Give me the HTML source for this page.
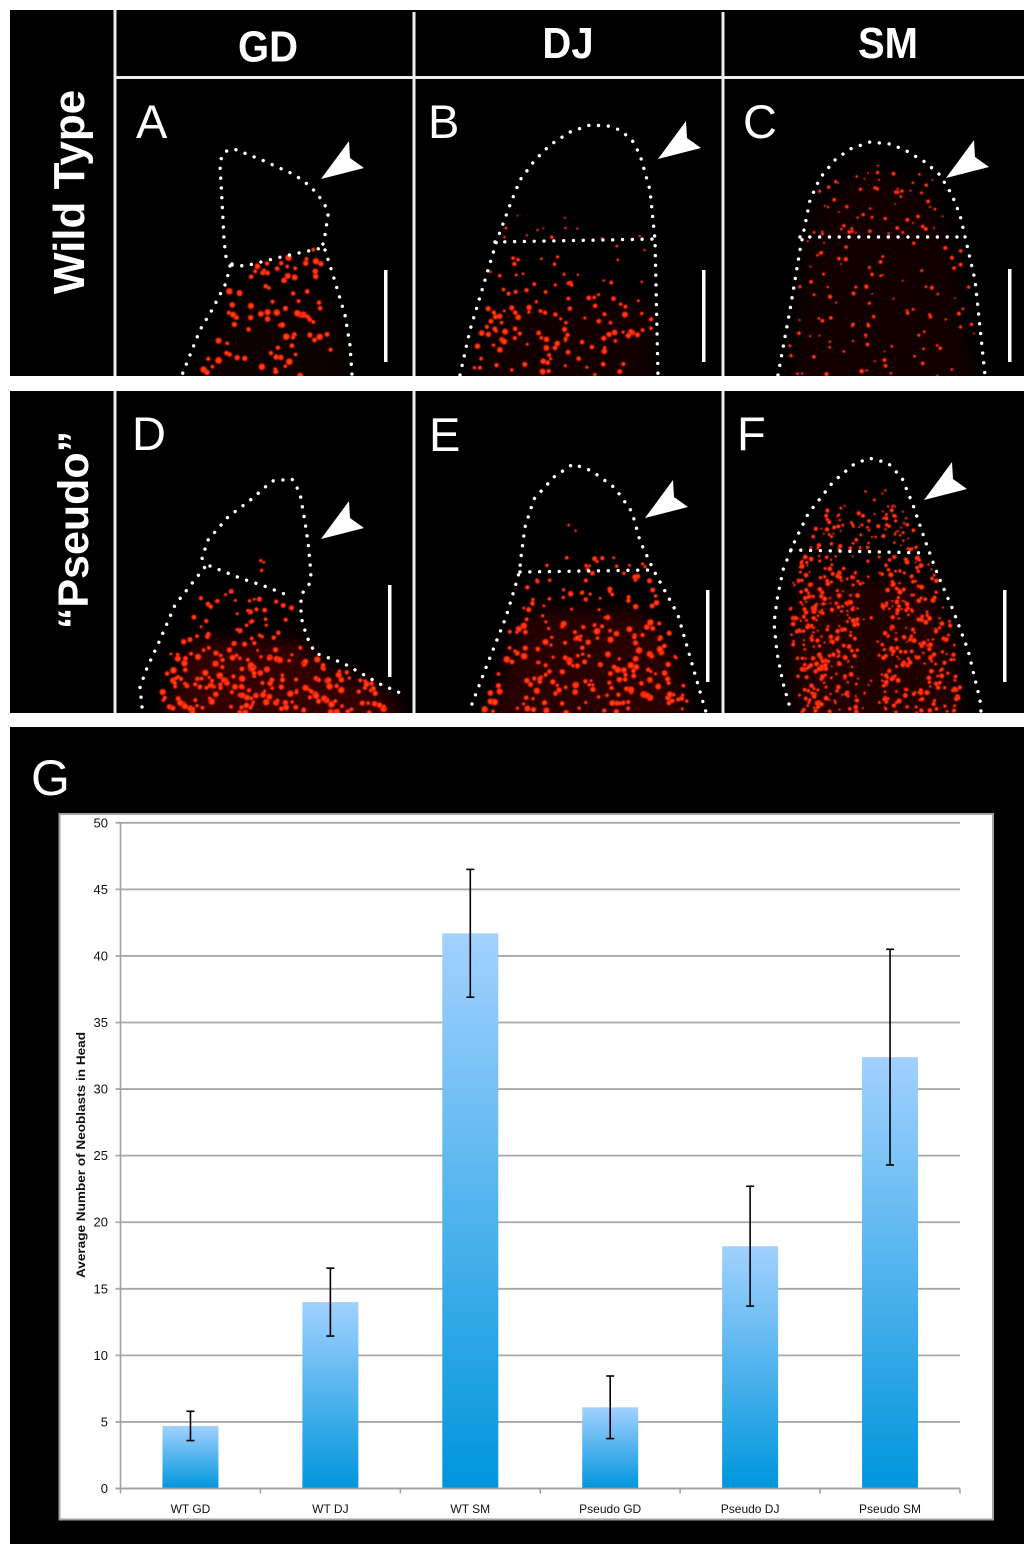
<!DOCTYPE html>
<html lang="en">
<head>
<meta charset="utf-8">
<title>Neoblast micrographs and chart</title>
<style>
html,body{margin:0;padding:0;background:#fff;}
svg{display:block;}
text{font-family:"Liberation Sans",sans-serif;}
</style>
</head>
<body>
<svg id="figure" xmlns="http://www.w3.org/2000/svg" width="1024" height="1544" viewBox="0 0 1024 1544">
  <defs>
    <filter id="soft" filterUnits="userSpaceOnUse" x="0" y="0" width="1024" height="730"><feGaussianBlur stdDeviation="0.6"/></filter>
    <filter id="glow" filterUnits="userSpaceOnUse" x="0" y="0" width="1024" height="730"><feGaussianBlur stdDeviation="9"/></filter>
    <linearGradient id="barFill" x1="0" y1="0" x2="0" y2="1">
      <stop offset="0" stop-color="#a2d1ff"/>
      <stop offset="1" stop-color="#0096dc"/>
    </linearGradient>
    <radialGradient id="cellFill">
      <stop offset="0" stop-color="#ff5a1c"/>
      <stop offset="0.65" stop-color="#ff2a0a"/>
      <stop offset="1" stop-color="#d81000"/>
    </radialGradient>
    <clipPath id="topRowClip"><rect x="10" y="10" width="1014" height="366"/></clipPath>
    <clipPath id="bottomRowClip"><rect x="10" y="391" width="1014" height="322"/></clipPath>
  </defs>
  <rect x="0" y="0" width="1024" height="1544" fill="#fff"/>
  <rect x="10" y="10" width="1014" height="703" fill="#000"/>
  <rect x="10" y="727" width="1014" height="817" fill="#000"/>

  <g clip-path="url(#topRowClip)"><g id="tissueTop" filter="url(#glow)"></g></g>
  <g clip-path="url(#bottomRowClip)"><g id="tissueBottom" filter="url(#glow)"></g></g>
  <g clip-path="url(#topRowClip)"><g id="cellsTop" filter="url(#soft)"></g></g>
  <g clip-path="url(#bottomRowClip)"><g id="cellsBottom" filter="url(#soft)"></g></g>

  <!-- panel separators -->
  <g fill="#eeeeee">
    <rect x="10" y="376" width="1014" height="15" fill="#fff"/>
    <rect x="10" y="713" width="1014" height="14" fill="#fff"/>
    <rect x="113.5" y="10" width="3" height="366"/>
    <rect x="412.5" y="12" width="3" height="364"/>
    <rect x="721.5" y="12" width="3" height="364"/>
    <rect x="116" y="76" width="908" height="3"/>
    <rect x="113.5" y="391" width="3" height="322"/>
    <rect x="412.5" y="391" width="3" height="322"/>
    <rect x="721.5" y="391" width="3" height="322"/>
  </g>

  <!-- headers -->
  <g fill="#fff" font-weight="700">
    <text transform="translate(268 61.5) scale(1 1.08)" font-size="40" text-anchor="middle">GD</text>
    <text transform="translate(568 58) scale(1 1.08)" font-size="40" text-anchor="middle">DJ</text>
    <text transform="translate(888 58) scale(1 1.08)" font-size="40" text-anchor="middle">SM</text>
    <text transform="translate(84 192) rotate(-90)" font-size="44" text-anchor="middle">Wild Type</text>
    <text transform="translate(88 530) rotate(-90)" font-size="43" text-anchor="middle">“Pseudo”</text>
  </g>
  <g fill="#fff" font-size="47">
    <text x="136" y="138">A</text>
    <text x="428" y="138">B</text>
    <text x="743" y="138">C</text>
    <text x="132" y="450">D</text>
    <text x="429" y="451">E</text>
    <text x="737" y="450">F</text>
    <text x="31" y="795" font-size="50">G</text>
  </g>

  <!-- dotted outlines -->
  <g fill="none" stroke="#fff" stroke-width="3.4" stroke-linecap="round" stroke-dasharray="0.01 9.8" stroke-linejoin="round">
    <polyline points="232,264 226,257 224,240 222,200 220,165 222,155 228,150 234,149 262,160 295,175 310,186 318,195 325,205 328,215 325,235 322,248"/>
    <polyline points="232,265 245,266 265,261 285,256 322,248"/>
    <polyline points="230,266 226,283 212,310 200,330 190,355 182,375"/>
    <polyline points="325,250 333,275 345,315 350,345 352,375"/>

    <polyline points="460,375 470,330 485,280 497,240 510,205 520,180 535,160 550,145 570,132 590,125 608,126 620,130 632,140 640,155 650,190 655,240 657,330 658,375"/>
    <polyline points="495,242 655,239"/>

    <polyline points="778,375 790,310 800,250 810,200 820,178 835,160 850,149 870,142 890,144 905,150 925,162 940,175 952,195 960,215 975,280 985,375"/>
    <polyline points="800,237 962,237"/>

    <polyline points="142,707 140,687 147,668 159,642 175,605 193,582 205,567 202,558 208,540 228,517 253,498 272,481 292,479 300,493 305,522 308,542 311,573 310,583 301,595 301,617 307,637 315,653 343,663 380,684 407,696"/>
    <polyline points="210,566 240,578 267,587 292,597"/>

    <polyline points="472,704 487,665 506,617 518,577 520,567 521,557 525,527 534,499 554,477 573,464 592,471 615,488 632,512 640,541 653,569 678,615 703,702 706,712"/>
    <polyline points="520,572 653,570"/>

    <polyline points="789,704 783,683 777,653 774,623 777,600 783,570 792,547 808,514 833,482 853,465 869,458 888,463 902,478 913,505 926,543 937,573 953,610 968,650 980,700 981,712"/>
    <polyline points="791,550 928,553"/>
  </g>

  <!-- arrowheads -->
  <g fill="#fff">
    <polygon points="321,179 349,141 350,158 364,168"/>
    <polygon transform="translate(337 -20)" points="321,179 349,141 350,158 364,168"/>
    <polygon transform="translate(625 -1)" points="321,179 349,141 350,158 364,168"/>
    <polygon transform="translate(0 360)" points="321,179 349,141 350,158 364,168"/>
    <polygon transform="translate(324 339)" points="321,179 349,141 350,158 364,168"/>
    <polygon transform="translate(603 321)" points="321,179 349,141 350,158 364,168"/>
  </g>

  <!-- scale bars -->
  <g fill="#fff">
    <rect x="384" y="270" width="3.5" height="92"/>
    <rect x="702" y="270" width="3.5" height="92"/>
    <rect x="1008" y="269" width="3.5" height="93"/>
    <rect x="388" y="585" width="3.5" height="92"/>
    <rect x="706" y="590" width="3.5" height="92"/>
    <rect x="1003" y="590" width="3.5" height="92"/>
  </g>

  <!-- chart -->
  <rect x="59.5" y="814" width="933.5" height="705.5" fill="#fff" stroke="#a2a2a2" stroke-width="2"/>
  <g id="chart"></g>
  <text transform="translate(85 1155) rotate(-90)" font-size="12" font-weight="700" text-anchor="middle" fill="#111" textLength="246" lengthAdjust="spacingAndGlyphs">Average Number of Neoblasts in Head</text>
</svg>

<script>
// ---- chart data ----
var categories = ["WT GD", "WT DJ", "WT SM", "Pseudo GD", "Pseudo DJ", "Pseudo SM"];
var meanValues = [4.7, 14.0, 41.7, 6.1, 18.2, 32.4];
var errorValues = [1.1, 2.55, 4.8, 2.35, 4.5, 8.1];
var yTickLabels = [0, 5, 10, 15, 20, 25, 30, 35, 40, 45, 50];

// ---- axis functions ----
var plotLeft = 120.5, plotRight = 960, plotBottom = 1488.5, plotTop = 822.8, yMax = 50;
function yScale(v) { return plotBottom - (v / yMax) * (plotBottom - plotTop); }
function bandWidth() { return (plotRight - plotLeft) / categories.length; }
function xCenter(i) { return plotLeft + bandWidth() * (i + 0.5); }

var NS = "http://www.w3.org/2000/svg";
var chart = document.getElementById("chart");
function make(tag, attrs, parent) {
  var n = document.createElementNS(NS, tag);
  for (var k in attrs) n.setAttribute(k, attrs[k]);
  parent.appendChild(n);
  return n;
}

yTickLabels.forEach(function (t) {
  var y = yScale(t);
  var grid = make("line", { x1: plotLeft - 5, x2: plotRight, y1: y, y2: y, stroke: "#a8a8a8", "stroke-width": 1.8 }, chart);
  
  
  var lab = make("text", { x: 108, y: y + 4.5, "font-size": 13, "text-anchor": "end", fill: "#111" }, chart);
  lab.textContent = t;
  
  
});

var yAxis = make("line", { x1: plotLeft, x2: plotLeft, y1: plotTop, y2: plotBottom, stroke: "#a0a0a0", "stroke-width": 1.6 }, chart);



for (var ti = 0; ti <= categories.length; ti++) {
  var tx = plotLeft + bandWidth() * ti;
  var tick = make("line", { x1: tx, x2: tx, y1: plotBottom, y2: plotBottom + 5, stroke: "#a0a0a0", "stroke-width": 1.5 }, chart);
  
  
}

categories.forEach(function (c, i) {
  var cx = xCenter(i), w = 56;
  var bar = make("rect", { x: cx - w / 2, y: yScale(meanValues[i]), width: w, height: plotBottom - yScale(meanValues[i]), fill: "url(#barFill)" }, chart);
  
  
  var hi = yScale(meanValues[i] + errorValues[i]), lo = yScale(meanValues[i] - errorValues[i]);
  var stem = make("line", { x1: cx, x2: cx, y1: hi, y2: lo, stroke: "#000", "stroke-width": 1.6 }, chart);
  
  
  var capTop = make("line", { x1: cx - 4, x2: cx + 4, y1: hi, y2: hi, stroke: "#000", "stroke-width": 1.6 }, chart);
  
  
  var capBottom = make("line", { x1: cx - 4, x2: cx + 4, y1: lo, y2: lo, stroke: "#000", "stroke-width": 1.6 }, chart);
  
  
  var lab = make("text", { x: cx, y: 1513, "font-size": 12, "text-anchor": "middle", fill: "#111" }, chart);
  lab.textContent = c;
  
  
});

var xAxis = make("line", { x1: plotLeft - 5, x2: plotRight, y1: plotBottom, y2: plotBottom, stroke: "#a0a0a0", "stroke-width": 1.8 }, chart);



// ---- micrograph texture (photographic speckle, not chart data) ----
var tissueAreas = [
  { poly: [[240,300],[320,290],[340,330],[345,395],[200,395],[215,340]], o: 0.05 },
  { poly: [[500,300],[650,300],[652,395],[475,395]], o: 0.07 },
  { poly: [[815,210],[870,165],[930,195],[955,260],[975,395],[790,395],[800,300]], o: 0.07 },
  { poly: [[195,640],[300,640],[325,670],[390,695],[410,730],[160,730]], o: 0.20 },
  { poly: [[530,610],[645,610],[675,660],[690,730],[485,730],[505,670]], o: 0.16 },
  { poly: [[805,580],[925,580],[950,640],[962,730],[800,730],[790,650]], o: 0.13 }
];
var speckleAreas = [
  { poly: [[236,268],[320,246],[333,300],[335,376],[200,376],[216,320]], n: 85, a: 2.0, b: 3.6 },
  { poly: [[495,246],[652,243],[652,290],[486,290]], n: 24, a: 1.3, b: 2.4 },
  { poly: [[486,290],[652,290],[655,376],[472,376]], n: 100, a: 1.6, b: 3.2 },
  { poly: [[510,212],[560,205],[590,235],[645,232],[650,240],[497,240]], n: 12, a: 1.0, b: 2.0 },
  { poly: [[803,240],[960,240],[975,300],[980,376],[785,376],[795,300]], n: 95, a: 1.0, b: 2.5 },
  { poly: [[805,235],[815,195],[840,165],[870,150],[905,160],[935,180],[955,235]], n: 60, a: 1.0, b: 2.2 },
  { poly: [[203,588],[292,594],[298,640],[310,655],[170,655],[185,615]], n: 55, a: 1.6, b: 3.0 },
  { poly: [[165,655],[310,655],[345,670],[385,690],[385,713],[160,713]], n: 170, a: 1.8, b: 3.6 },
  { poly: [[258,558],[268,558],[268,572],[258,572]], n: 3, a: 1.2, b: 2.0 },
  { poly: [[530,573],[650,573],[668,620],[520,620]], n: 42, a: 1.5, b: 3.0 },
  { poly: [[510,620],[668,620],[690,713],[480,713]], n: 170, a: 1.7, b: 3.6 },
  { poly: [[535,556],[640,556],[650,570],[525,570]], n: 13, a: 1.5, b: 2.8 },
  { poly: [[548,526],[576,524],[576,532],[548,532]], n: 2, a: 1.2, b: 1.8 },
  { poly: [[795,556],[858,556],[858,713],[802,713],[792,650],[790,600]], n: 260, a: 1.1, b: 2.7 },
  { poly: [[858,556],[882,556],[882,713],[858,713]], n: 16, a: 1.0, b: 2.0 },
  { poly: [[882,556],[928,556],[950,620],[966,713],[882,713]], n: 230, a: 1.1, b: 2.8 },
  { poly: [[808,550],[820,510],[905,510],[922,550]], n: 80, a: 1.0, b: 2.4 },
  { poly: [[830,510],[860,488],[885,490],[900,510]], n: 10, a: 1.0, b: 1.8 }
];
var seed = 48271;
function nextRand() { seed = (seed * 16807) % 2147483647; return seed / 2147483647; }
function inside(p, x, y) {
  var c = false;
  for (var i = 0, j = p.length - 1; i < p.length; j = i++) {
    if ((p[i][1] > y) !== (p[j][1] > y) && x < (p[j][0] - p[i][0]) * (y - p[i][1]) / (p[j][1] - p[i][1]) + p[i][0]) c = !c;
  }
  return c;
}
var tissueTop = document.getElementById("tissueTop");
var tissueBottom = document.getElementById("tissueBottom");
tissueAreas.forEach(function (t) {
  var pts = t.poly.map(function (p) { return p.join(","); }).join(" ");
  var area = make("polygon", { points: pts, fill: "#ff1a00", opacity: t.o }, t.poly[0][1] < 385 ? tissueTop : tissueBottom);
  
  
});
var cellsTop = document.getElementById("cellsTop");
var cellsBottom = document.getElementById("cellsBottom");
speckleAreas.forEach(function (s) {
  var xs = s.poly.map(function (p) { return p[0]; }), ys = s.poly.map(function (p) { return p[1]; });
  var x0 = Math.min.apply(null, xs), x1 = Math.max.apply(null, xs), y0 = Math.min.apply(null, ys), y1 = Math.max.apply(null, ys);
  var holder = y0 < 385 ? cellsTop : cellsBottom;
  var placed = 0, guard = 0;
  while (placed < s.n && guard < s.n * 30) {
    guard++;
    var x = x0 + nextRand() * (x1 - x0), y = y0 + nextRand() * (y1 - y0);
    if (!inside(s.poly, x, y)) continue;
    var r = s.a + (s.b - s.a) * nextRand();
    var dot = make("circle", { cx: x.toFixed(1), cy: y.toFixed(1), r: r.toFixed(1), fill: "url(#cellFill)" }, holder);
    
    
    placed++;
  }
});
</script>
</body>
</html>
